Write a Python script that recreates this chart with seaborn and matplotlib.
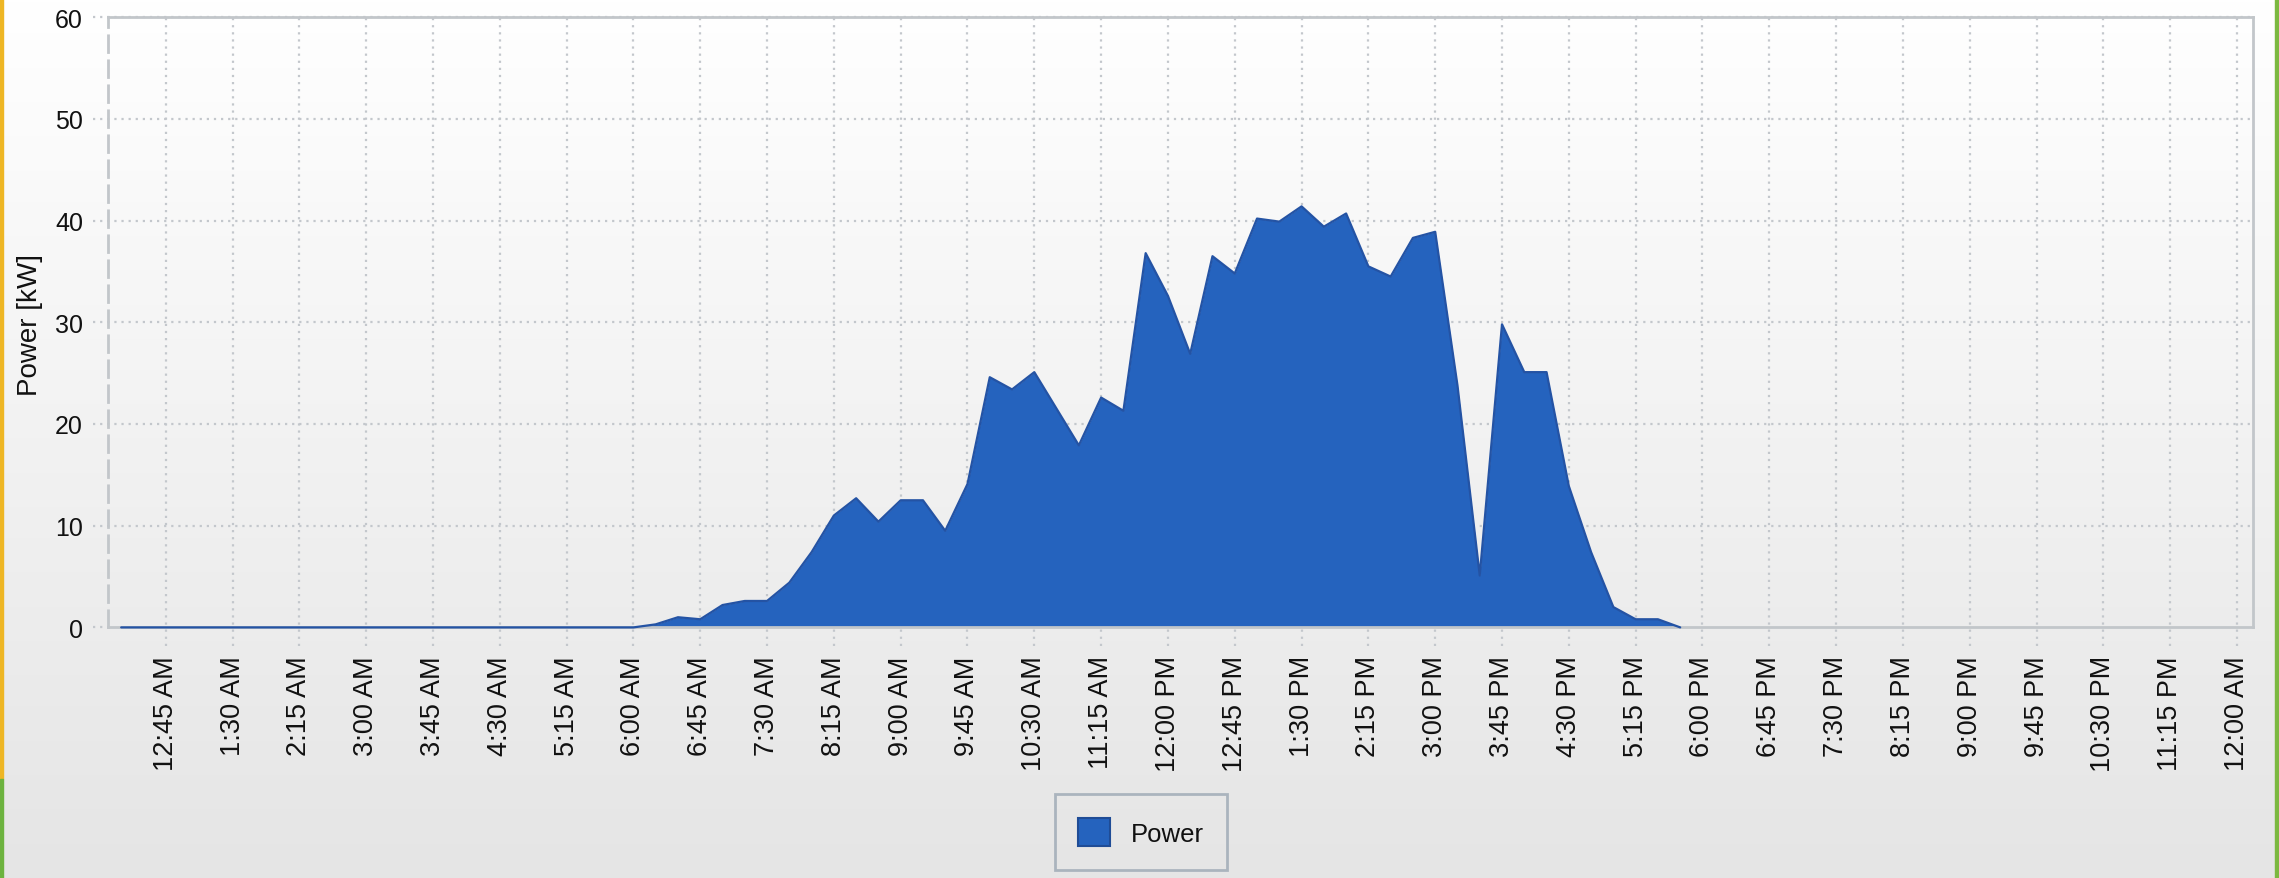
import numpy as np
import pandas as pd
import seaborn as sns
import matplotlib.pyplot as plt
import matplotlib.dates as mdates
from matplotlib.colors import LinearSegmentedColormap
from matplotlib.patches import Patch, Rectangle

# Power readings every 15 minutes, starting 12:15 AM
start_time = "2020-01-01 00:15"
power_kw = [
    0, 0, 0, 0, 0, 0, 0, 0, 0, 0, 0, 0,              # 00:15 - 03:00
    0, 0, 0, 0, 0, 0, 0, 0, 0, 0, 0,                 # 03:15 - 05:45
    0, 0.3, 1.0, 0.8, 2.2, 2.6, 2.6, 4.4,            # 06:00 - 07:45
    7.4, 11.0, 12.7, 10.4, 12.5, 12.5, 9.5, 14.1,    # 08:00 - 09:45
    24.6, 23.4, 25.1, 21.5, 17.9, 22.6, 21.3, 36.8,  # 10:00 - 11:45
    32.6, 26.9, 36.5, 34.8, 40.2, 39.9, 41.4, 39.4,  # 12:00 - 13:45
    40.7, 35.5, 34.5, 38.3, 38.9, 23.8, 5.1, 29.8,   # 14:00 - 15:45
    25.1, 25.1, 13.9, 7.4, 2.0, 0.8, 0.8, 0.0,       # 16:00 - 17:45
]

tick_labels = [
    "12:45 AM", "1:30 AM", "2:15 AM", "3:00 AM", "3:45 AM", "4:30 AM",
    "5:15 AM", "6:00 AM", "6:45 AM", "7:30 AM", "8:15 AM", "9:00 AM",
    "9:45 AM", "10:30 AM", "11:15 AM", "12:00 PM", "12:45 PM", "1:30 PM",
    "2:15 PM", "3:00 PM", "3:45 PM", "4:30 PM", "5:15 PM", "6:00 PM",
    "6:45 PM", "7:30 PM", "8:15 PM", "9:00 PM", "9:45 PM", "10:30 PM",
    "11:15 PM", "12:00 AM",
]
y_ticks = [0, 10, 20, 30, 40, 50, 60]

df = pd.DataFrame({
    "time": pd.date_range(start_time, periods=len(power_kw), freq="15min"),
    "power": power_kw,
})
day = pd.Timestamp("2020-01-01")
tick_times = pd.date_range(day + pd.Timedelta(minutes=45), periods=len(tick_labels), freq="45min")

sns.set_style("white")
plt.rcParams["font.family"] = ["Liberation Sans", "DejaVu Sans"]

fill_col = "#2563be"
edge_col = "#2453a4"
grid_col = "#c3c7cc"

fig = plt.figure(figsize=(22.79, 8.79), dpi=100)

# gradient background for the whole panel
bg = fig.add_axes([0, 0, 1, 1], zorder=-10)
grad = np.linspace(0, 1, 256).reshape(-1, 1)
cmap = LinearSegmentedColormap.from_list("bg", ["#ffffff", "#e5e5e5"])
bg.imshow(grad, aspect="auto", cmap=cmap, extent=[0, 1, 0, 1], origin="upper")
bg.set_axis_off()

# window border strips
fig.patches.append(Rectangle((0, 99 / 879), 3 / 2279, 780 / 879, transform=fig.transFigure,
                             color="#eeb624", zorder=5))
fig.patches.append(Rectangle((0, 0), 3 / 2279, 99 / 879, transform=fig.transFigure,
                             color="#6db33f", zorder=5))
fig.patches.append(Rectangle((2275 / 2279, 0), 4 / 2279, 1, transform=fig.transFigure,
                             color="#7cb840", zorder=5))

ax = fig.add_axes([108 / 2279, 1 - 628.4 / 879, (2253 - 108) / 2279, 610.2 / 879])
ax.set_facecolor("none")

x0 = mdates.date2num(day + pd.Timedelta(hours=0.102))
x1 = mdates.date2num(day + pd.Timedelta(hours=24.18))
ax.set_xlim(x0, x1)
ax.set_ylim(0, 60)

# dotted grid, sticking out a little past the plot like the original
ax.hlines(y_ticks[1:], -0.007, 1.0, transform=ax.get_yaxis_transform(), clip_on=False,
          colors=grid_col, linestyles=(0, (1, 2.2)), linewidth=1.6, zorder=1)
ax.hlines([0], -0.007, 0.0, transform=ax.get_yaxis_transform(), clip_on=False,
          colors=grid_col, linestyles=(0, (1, 2.2)), linewidth=1.6, zorder=1)
ax.vlines(mdates.date2num(tick_times), -0.03, 1.0, transform=ax.get_xaxis_transform(),
          clip_on=False, colors=grid_col, linestyles=(0, (1, 2.2)), linewidth=1.6, zorder=1)

ax.fill_between(df["time"], 0, df["power"], color=fill_col, linewidth=0, zorder=2)
sns.lineplot(data=df, x="time", y="power", ax=ax, color=edge_col, linewidth=1.6, zorder=3)
for ln in ax.lines:
    ln.set_clip_on(False)

ax.set_xticks(mdates.date2num(tick_times))
ax.set_xticklabels(tick_labels, rotation=90, fontsize=19.5, color="#111111")
ax.set_yticks(y_ticks)
ax.set_yticklabels([str(v) for v in y_ticks], fontsize=18, color="#111111")
ax.tick_params(axis="x", length=0, pad=20)
ax.tick_params(axis="y", length=0, pad=18)
for lab in ax.get_xticklabels():
    lab.set_va("top")

ax.set_xlabel("")
ax.set_ylabel("Power [kW]", fontsize=20, color="#111111")
ax.yaxis.set_label_coords(-0.0303, 0.497)

for side in ["top", "right", "bottom", "left"]:
    ax.spines[side].set_visible(True)
    ax.spines[side].set_color("#c2c6ca")
    ax.spines[side].set_linewidth(2)
ax.spines["left"].set_linestyle((0, (6, 3)))

leg = fig.legend(handles=[Patch(facecolor=fill_col, edgecolor="#1f4c96", linewidth=1.5, label="Power")],
                 loc="center", bbox_to_anchor=(1141 / 2279, 1 - 833 / 879),
                 frameon=True, fancybox=False, edgecolor="#9ca8b4", facecolor="none",
                 fontsize=18.5, handlelength=1.25, handleheight=1.35,
                 borderpad=0.9, handletextpad=0.8)
leg.get_frame().set_linewidth(2)
for t in leg.get_texts():
    t.set_color("#111111")

fig.savefig("out.png", dpi=100)
